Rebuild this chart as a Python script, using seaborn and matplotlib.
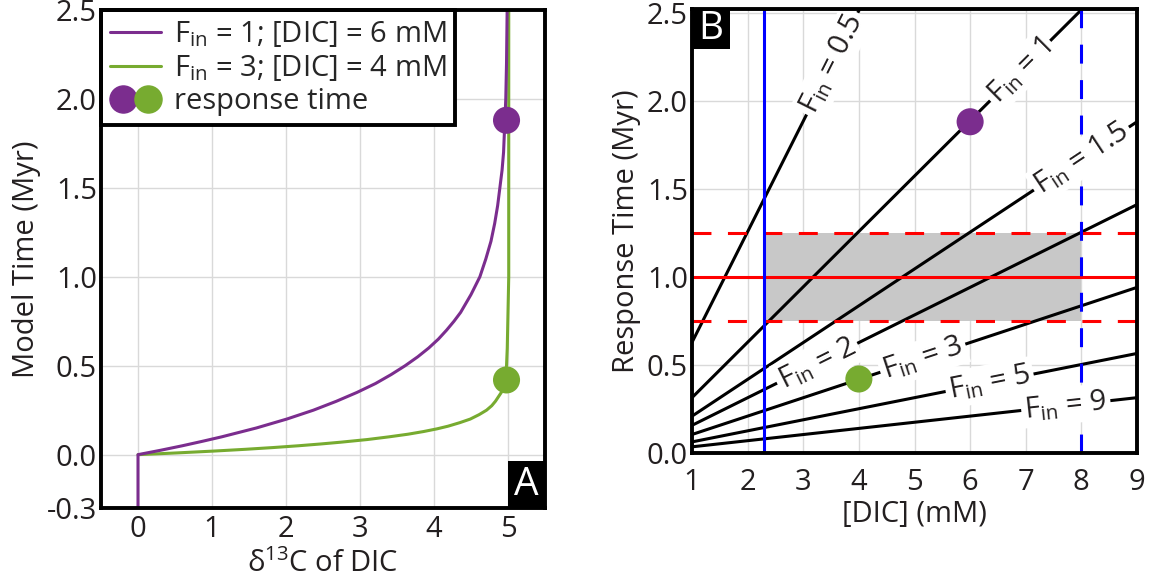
import numpy as np
import pandas as pd
import matplotlib
matplotlib.use("Agg")
import matplotlib.pyplot as plt
import seaborn as sns
from matplotlib.lines import Line2D
from matplotlib.patches import Rectangle
from matplotlib.legend_handler import HandlerTuple

# --- dados ---
# painel A: curvas delta13C x tempo do modelo
d13c_f1 = [0, 0, 0.31, 0.60, 0.87, 1.13, 1.60, 2.01, 2.37, 2.68, 2.96, 3.21, 3.42,
           3.61, 3.78, 3.93, 4.06, 4.17, 4.27, 4.36, 4.43, 4.50, 4.56, 4.62, 4.70,
           4.77, 4.82, 4.86, 4.89, 4.92, 4.94, 4.95, 4.96, 4.97, 4.98, 4.99]
tempo_f1 = [-0.3, 0, 0.025, 0.05, 0.075, 0.10, 0.15, 0.20, 0.25, 0.30, 0.35, 0.40, 0.45,
            0.50, 0.55, 0.60, 0.65, 0.70, 0.75, 0.80, 0.85, 0.90, 0.95, 1.00, 1.10,
            1.20, 1.30, 1.40, 1.50, 1.60, 1.70, 1.80, 1.90, 2.00, 2.20, 2.55]
d13c_f3 = [0, 0.28, 0.54, 1.02, 1.45, 1.83, 2.17, 2.47, 2.74, 3.10, 3.39, 3.65, 3.86,
           4.04, 4.19, 4.35, 4.49, 4.61, 4.71, 4.78, 4.83, 4.87, 4.91, 4.93, 4.95,
           4.97, 4.98, 4.99, 5.00, 5.01, 5.01]
tempo_f3 = [0, 0.005, 0.01, 0.02, 0.03, 0.04, 0.05, 0.06, 0.07, 0.085, 0.10, 0.115, 0.13,
            0.145, 0.16, 0.18, 0.20, 0.225, 0.25, 0.275, 0.30, 0.325, 0.35, 0.375, 0.40,
            0.45, 0.50, 0.60, 0.80, 1.00, 2.55]
resp_d13c = [4.98, 4.98]
resp_tempo = [1.88, 0.42]

# painel B: tempo de resposta x [DIC] para cada F_in
fin = [0.5, 1, 1.5, 2, 3, 5, 9]
dic_ends = [1, 9]
resp_em_dic1 = [0.628, 0.314, 0.209, 0.157, 0.105, 0.063, 0.035]
resp_em_dic9 = [5.65, 2.83, 1.88, 1.41, 0.94, 0.565, 0.314]
label_fin = ["0.5", "1", "1.5", "2", "3", "5", "9"]
label_x = [3.52, 6.9, 8.0, 3.25, 5.15, 6.35, 7.72]

dic_pontos = [6, 4]
resp_pontos = [1.88, 0.42]

dic_min, dic_max = 2.3, 8
resp_alvo, resp_low, resp_high = 1.0, 0.75, 1.25

roxo = "#7b2d8e"
verde = "#77ab30"
texto = "#231f20"

sns.set_style("white")
plt.rcParams["font.family"] = ["Open Sans", "DejaVu Sans"]
plt.rcParams["mathtext.fontset"] = "custom"
plt.rcParams["mathtext.rm"] = "Open Sans"
plt.rcParams["mathtext.it"] = "Open Sans:italic"
plt.rcParams["mathtext.bf"] = "Open Sans:bold"
fs = 21
lw = 2.2
tracejado = (0, (6.2, 5.4))

fig = plt.figure(figsize=(11.51, 5.79), dpi=100)
axA = fig.add_axes([101 / 1151, 1 - 508 / 579, 444 / 1151, 498 / 579])
axB = fig.add_axes([692 / 1151, 1 - 453 / 579, 445 / 1151, 444 / 579])

# ---- painel A ----
df1 = pd.DataFrame({"d": d13c_f1, "t": tempo_f1})
df3 = pd.DataFrame({"d": d13c_f3, "t": tempo_f3})
sns.lineplot(data=df3, x="d", y="t", ax=axA, color=verde, lw=lw, sort=False, estimator=None)
sns.lineplot(data=df1, x="d", y="t", ax=axA, color=roxo, lw=lw, sort=False, estimator=None)
sns.scatterplot(x=resp_d13c, y=resp_tempo, ax=axA, hue=["a", "b"], palette=[roxo, verde],
                s=380, edgecolor="none", legend=False, zorder=5)

axA.set_xlim(-0.5, 5.5)
axA.set_ylim(-0.3, 2.5)
axA.set_xticks([0, 1, 2, 3, 4, 5])
axA.set_yticks([-0.3, 0, 0.5, 1.0, 1.5, 2.0, 2.5])
axA.set_yticklabels(["-0.3", "0.0", "0.5", "1.0", "1.5", "2.0", "2.5"])
axA.grid(True, color="#d9d9d9", lw=1)
axA.set_ylabel("Model Time (Myr)", fontsize=fs, labelpad=4)

handles = [Line2D([], [], color=roxo, lw=lw),
           Line2D([], [], color=verde, lw=lw),
           (Line2D([], [], color=roxo, marker="o", ms=19.5, ls="none"),
            Line2D([], [], color=verde, marker="o", ms=19.5, ls="none"))]
labels = [r"F$_{\mathrm{in}}$ = 1; [DIC] = 6 mM",
          r"F$_{\mathrm{in}}$ = 3; [DIC] = 4 mM",
          "response time"]
leg = axA.legend(handles, labels, loc="upper left", borderaxespad=0, fontsize=fs,
                 handlelength=1.75, handletextpad=0.45, labelspacing=0.15,
                 handler_map={tuple: HandlerTuple(ndivide=None, pad=0)},
                 fancybox=False, framealpha=1, edgecolor="black", borderpad=0.3)
leg.get_frame().set_linewidth(2.8)

# caixa preta com a letra do painel
axA.add_patch(Rectangle((1 - 37 / 444, 0), 37 / 444, 47 / 498, transform=axA.transAxes,
                        fc="black", ec="none", zorder=10, clip_on=False))
axA.text(1 - 18.5 / 444, 23 / 498, "A", transform=axA.transAxes, ha="center", va="center",
         color="white", fontsize=28, zorder=11)

# ---- painel B ----
axB.axhspan(resp_low, resp_high, xmin=(dic_min - 1) / 8, xmax=(dic_max - 1) / 8,
            color="#c8c8c8", lw=0, zorder=1)
for i, f in enumerate(fin):
    sns.lineplot(x=dic_ends, y=[resp_em_dic1[i], resp_em_dic9[i]], ax=axB,
                 color="black", lw=lw, zorder=2)
    lx = label_x[i]
    ly = np.interp(lx, dic_ends, [resp_em_dic1[i], resp_em_dic9[i]])
    slope = (resp_em_dic9[i] - resp_em_dic1[i]) / (dic_ends[1] - dic_ends[0])
    ang = np.degrees(np.arctan(slope))
    axB.text(lx, ly, r"F$_{\mathrm{in}}$ = " + label_fin[i], fontsize=fs, color=texto,
             rotation=ang, transform_rotates_text=True, rotation_mode="anchor",
             ha="center", va="center", zorder=4, clip_on=True,
             bbox=dict(boxstyle="square,pad=0.12", fc="white", ec="none"))

axB.axhline(resp_alvo, color="red", lw=lw, zorder=3)
axB.axhline(resp_low, color="red", lw=lw, ls=tracejado, zorder=3)
axB.axhline(resp_high, color="red", lw=lw, ls=tracejado, zorder=3)
axB.axvline(dic_min, color="blue", lw=lw, zorder=3)
axB.axvline(dic_max, color="blue", lw=lw, ls=tracejado, zorder=3)
sns.scatterplot(x=dic_pontos, y=resp_pontos, ax=axB, hue=["a", "b"], palette=[roxo, verde],
                s=380, edgecolor="none", legend=False, zorder=6)

axB.set_xlim(1, 9)
axB.set_ylim(0, 2.52)
axB.set_xticks(range(1, 10))
axB.set_yticks([0, 0.5, 1.0, 1.5, 2.0, 2.5])
axB.set_yticklabels(["0.0", "0.5", "1.0", "1.5", "2.0", "2.5"])
axB.grid(True, color="#d9d9d9", lw=1, zorder=0)
axB.set_axisbelow(True)
axB.set_ylabel("Response Time (Myr)", fontsize=fs, labelpad=4)

axB.add_patch(Rectangle((0, 1 - 40 / 444), 38 / 445, 40 / 444, transform=axB.transAxes,
                        fc="black", ec="none", zorder=10, clip_on=False))
axB.text(19 / 445, 1 - 20 / 444, "B", transform=axB.transAxes, ha="center", va="center",
         color="white", fontsize=28, zorder=11)

for ax in (axA, axB):
    for sp in ax.spines.values():
        sp.set_linewidth(2.8)
        sp.set_color("black")
        sp.set_zorder(12)
    ax.tick_params(labelsize=fs, length=0, pad=3, colors=texto)
    ax.xaxis.label.set_color(texto)
    ax.yaxis.label.set_color(texto)

axA.tick_params(axis="x", pad=5)
axA.set_xlabel(r"δ$^{\mathrm{13}}$C of DIC", fontsize=fs, labelpad=4, color=texto)
axB.tick_params(axis="x", pad=11)
axB.set_xlabel("[DIC] (mM)", fontsize=fs, labelpad=2, color=texto)

fig.savefig("out.png", dpi=100)
